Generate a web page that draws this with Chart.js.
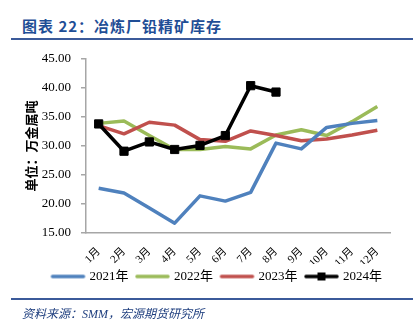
<!DOCTYPE html>
<html>
<head>
<meta charset="utf-8">
<script src="https://cdn.jsdelivr.net/npm/chart.js@4/dist/chart.umd.min.js"></script>
<style>
  html, body { margin: 0; padding: 0; background: #fff; width: 420px; height: 334px; overflow: hidden; }
  body { position: relative; }
  #title { position: absolute; left: 22px; top: 15px; font: bold 15px "Noto Sans CJK SC", sans-serif; color: #1f4e96; letter-spacing: 1px; white-space: nowrap; }
  .rule { position: absolute; left: 11px; width: 402px; height: 2px; background: #3b5a9a; }
  #footer { position: absolute; left: 22px; top: 304px; font: italic 12px "Liberation Serif", "Noto Sans CJK SC", serif; color: #1f3f7f; white-space: nowrap; }
  #c { position: absolute; left: 0; top: 0; }
</style>
</head>
<body>
<div id="title">图表 22：冶炼厂铅精矿库存</div>
<div class="rule" style="top:38px"></div>
<canvas id="c" width="420" height="334"></canvas>
<div class="rule" style="top:298px"></div>
<div id="footer">资料来源：SMM，宏源期货研究所</div>
<script>
// Lead concentrate stocks at smelters, 10k metal tonnes, by month
const months = ['1月', '2月', '3月', '4月', '5月', '6月', '7月', '8月', '9月', '10月', '11月', '12月'];
const seriesNames = ['2021年', '2022年', '2023年', '2024年'];
const stock2021 = [22.7, 21.9, 19.3, 16.7, 21.4, 20.5, 22.0, 30.5, 29.5, 33.2, 33.9, 34.4];
const stock2022 = [33.9, 34.3, 31.8, 29.4, 29.4, 29.9, 29.5, 31.9, 32.8, 31.8, 34.2, 36.8];
const stock2023 = [33.5, 32.1, 34.1, 33.6, 31.1, 30.8, 32.6, 31.8, 30.9, 31.2, 31.9, 32.7];
const stock2024 = [33.8, 29.1, 30.7, 29.4, 30.1, 31.8, 40.4, 39.3];
const yTicks = [15, 20, 25, 30, 35, 40, 45];

const colors = ['#4f81bd', '#9bbb59', '#c0504d', '#000000'];
const serif = '"Liberation Serif", "Noto Sans CJK SC", serif';

// small line swatch (with a square marker for the 2024 series) for the legend
function swatch(color, marker) {
  const c = document.createElement('canvas');
  c.width = 42; c.height = 10;
  const g = c.getContext('2d');
  g.strokeStyle = color; g.lineWidth = 3.5; g.lineCap = 'round';
  g.beginPath(); g.moveTo(7, 5); g.lineTo(38, 5); g.stroke();
  if (marker) { g.fillStyle = color; g.fillRect(18.5, 1, 8, 8); }
  return c;
}
const swatches = colors.map((c, i) => swatch(c, i === 3));

function lineSet(i, data, order) {
  const withMarker = i === 3;
  return {
    label: seriesNames[i],
    data: data,
    borderColor: colors[i],
    backgroundColor: colors[i],
    borderWidth: 3.5,
    tension: 0,
    borderJoinStyle: 'round',
    pointStyle: 'rect',
    pointRadius: withMarker ? 5.8 : 0,
    pointBorderWidth: 1,
    pointHoverRadius: withMarker ? 5.8 : 0,
    order: order
  };
}

new Chart(document.getElementById('c'), {
  type: 'line',
  data: {
    labels: months,
    datasets: [
      lineSet(0, stock2021, 2),
      lineSet(1, stock2022, 4),
      lineSet(2, stock2023, 3),
      lineSet(3, stock2024, 0)
    ]
  },
  options: {
    responsive: false,
    animation: false,
    events: [],
    layout: { padding: { left: 12, right: 0, top: 59, bottom: 41 } },
    plugins: {
      tooltip: { enabled: false },
      legend: {
        position: 'bottom',
        labels: {
          usePointStyle: true,
          pointStyleWidth: 33,
          boxHeight: 10,
          padding: 6,
          color: '#000',
          font: { family: serif, size: 13 },
          generateLabels: () => seriesNames.map((n, i) => ({
            text: n, pointStyle: swatches[i], fillStyle: colors[i], strokeStyle: colors[i],
            lineWidth: 0, hidden: false, datasetIndex: i, fontColor: '#000'
          }))
        }
      }
    },
    scales: {
      x: {
        type: 'category',
        offset: true,
        grid: { display: true, drawOnChartArea: false, drawTicks: false },
        border: { display: true, color: '#a6a6a6', width: 1.5 },
        ticks: {
          maxRotation: 45, minRotation: 45, padding: 12, autoSkip: false,
          color: '#000', font: { family: serif, size: 11 }
        },
        afterFit: s => { s.height = 31; }
      },
      y: {
        min: 15, max: 45,
        afterBuildTicks: s => { s.ticks = yTicks.map(v => ({ value: v })); },
        grid: { display: true, drawOnChartArea: false, drawTicks: true, tickLength: 5, color: '#a6a6a6', lineWidth: 1.5 },
        border: { display: true, color: '#a6a6a6', width: 1.5 },
        ticks: {
          padding: 10, color: '#000', font: { family: serif, size: 13 },
          callback: v => Number(v).toFixed(2)
        },
        title: {
          display: true, text: '单位：万金属吨', color: '#000',
          font: { family: '"Noto Sans CJK SC", sans-serif', size: 13, weight: 'bold' },
          padding: { top: 11, bottom: 0 }
        },
        afterFit: s => { s.width = 74; }
      },
      yRight: {
        position: 'right',
        display: true,
        grid: { display: false },
        border: { display: false },
        ticks: { display: false },
        afterFit: s => { s.width = 30; }
      }
    }
  }
});
</script>
</body>
</html>
